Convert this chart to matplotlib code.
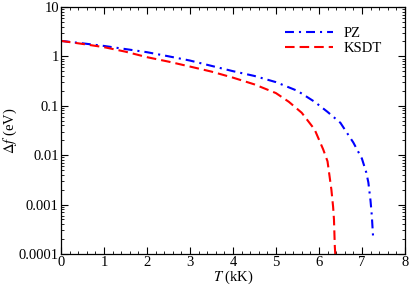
import matplotlib
matplotlib.use("Agg")
import matplotlib.pyplot as plt
from matplotlib.ticker import FixedLocator, FuncFormatter, LogLocator, MultipleLocator, NullFormatter

plt.rcParams["font.family"] = ["Liberation Serif", "DejaVu Serif"]
plt.rcParams["mathtext.fontset"] = "stix"

# values
t_pz = [0, 0.5, 1, 1.5, 2, 2.5, 3, 3.5, 4, 4.5, 5, 5.5, 5.9, 6.2, 6.5, 6.8, 7.0, 7.1, 7.15, 7.2, 7.23, 7.26]
f_pz = [2.05, 1.83, 1.62, 1.40, 1.21, 1.0, 0.82, 0.64, 0.50, 0.40, 0.30, 0.20, 0.12, 0.075,
        0.045, 0.018, 0.0085, 0.0045, 0.0028, 0.0012, 0.0006, 0.00022]

t_ksdt = [0, 0.5, 1, 1.5, 2, 2.5, 3, 3.5, 4, 4.5, 5, 5.3, 5.6, 5.9, 6.1, 6.2, 6.29, 6.33, 6.35, 6.37, 6.38]
f_ksdt = [2.05, 1.78, 1.53, 1.24, 0.96, 0.78, 0.62, 0.49, 0.37, 0.27, 0.18, 0.12, 0.072, 0.033,
          0.013, 0.0075, 0.002, 0.0009, 0.0005, 0.00014, 0.0001]

y_ticks = [10, 1, 0.1, 0.01, 0.001, 0.0001]

fig = plt.figure(figsize=(4.09, 2.86), dpi=100)
ax = fig.add_axes([0.149, 0.112, 0.841, 0.864])

ax.plot(t_pz, f_pz, color="#0000ff", lw=1.5, dashes=(4.3, 2.4, 1.0, 2.4), label="PZ")
ax.plot(t_ksdt, f_ksdt, color="#ff0000", lw=1.5, dashes=(4.6, 2.4), label="KSDT")

ax.set_yscale("log")
ax.set_xlim(0, 8)
ax.set_ylim(0.0001, 10)
ax.xaxis.set_major_locator(MultipleLocator(1))
ax.xaxis.set_minor_locator(MultipleLocator(0.2))
ax.yaxis.set_major_locator(FixedLocator(y_ticks))
ax.yaxis.set_minor_locator(LogLocator(base=10, subs=range(2, 10)))
ax.yaxis.set_major_formatter(FuncFormatter(lambda v, p: "%g" % v))
ax.yaxis.set_minor_formatter(NullFormatter())

ax.tick_params(which="both", direction="in", top=True, right=True, labelsize=10.5, pad=1.5)
ax.tick_params(which="major", length=5, width=0.8)
ax.tick_params(which="minor", length=2.5, width=0.6)
for s in ax.spines.values():
    s.set_linewidth(0.9)

ax.set_xlabel(r"$T$ (kK)", fontsize=10.5, labelpad=0)
ax.set_ylabel(r"$\Delta f$ (eV)", fontsize=10.5, labelpad=0)

ax.legend(loc="upper left", bbox_to_anchor=(0.651, 0.918), frameon=False, fontsize=10.5,
          borderpad=0, borderaxespad=0, handlelength=3.3, handletextpad=0.7, labelspacing=0.1)

fig.savefig("out.png", dpi=100)
